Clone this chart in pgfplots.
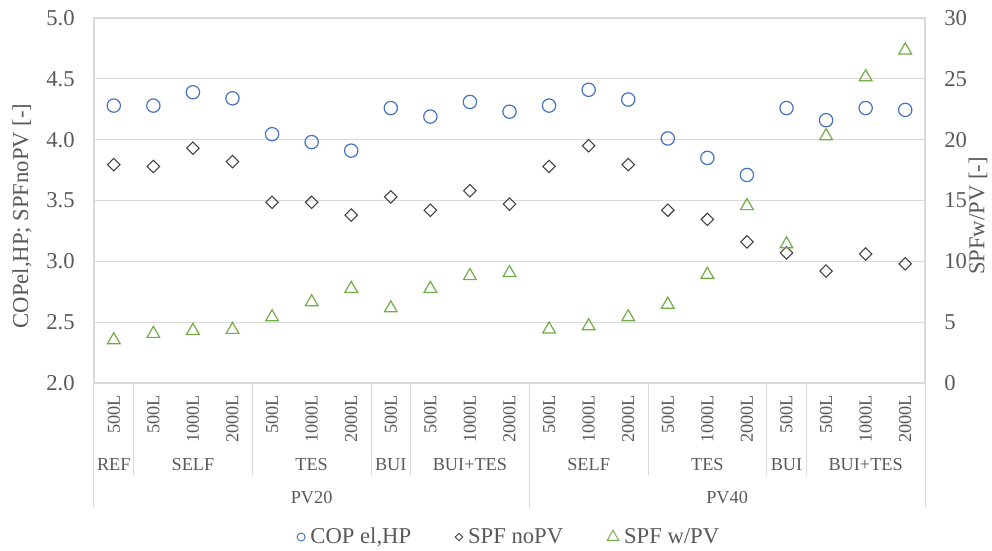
\documentclass[border=0pt]{standalone}
\usepackage{fontspec}
\setmainfont{Liberation Serif}
\usepackage{pgfplots}
\pgfplotsset{compat=1.18}
\definecolor{cblue}{HTML}{4472C4}
\definecolor{cdia}{HTML}{404040}
\definecolor{cgreen}{HTML}{70AD47}
\definecolor{gridc}{HTML}{D9D9D9}
\definecolor{txt}{HTML}{595959}
\newcommand{\mainfs}{\fontsize{17}{20}\selectfont}
\newcommand{\catfs}{\fontsize{13.7}{16}\selectfont}
\begin{document}
\begin{tikzpicture}
\useasboundingbox (-70.5pt,-125.25pt) rectangle (673.5pt,287.25pt);
\pgfplotsset{
  common/.style={
    scale only axis, width=623.25pt, height=273.75pt,
    xmin=-0.5, xmax=20.5, clip=false,
    /pgf/number format/assume math mode=true,
    tick label style={font=\mainfs, text=txt},
    major tick length=0pt,
  },
}
\begin{axis}[common,
  ymin=2, ymax=5, ytick={2,2.5,3,3.5,4,4.5,5},
  yticklabel style={/pgf/number format/fixed, /pgf/number format/fixed zerofill, /pgf/number format/precision=1, inner sep=0pt, anchor=east},
  yticklabel shift=14.25pt,
  ymajorgrids, grid style={gridc, line width=0.75pt},
  axis line style={gridc, line width=0.9pt},
  xtick={0,...,20},
  xticklabels={500L,500L,1000L,2000L,500L,1000L,2000L,500L,500L,1000L,2000L,500L,1000L,2000L,500L,1000L,2000L,500L,500L,1000L,2000L},
  xticklabel style={font=\catfs, inner sep=0pt, rotate=90, anchor=east},
  xticklabel shift=9pt,
  ylabel={COPel,HP; SPFnoPV [-]},
  every axis y label/.style={at={(axis description cs:-0.0866,0.4575)}, rotate=90, anchor=center, font=\mainfs, text=txt},
  legend style={at={(0.5,-0.422)}, anchor=center, draw=none, fill=none, legend columns=3, font=\mainfs, text=txt,
    /tikz/every odd column/.append style={column sep=2pt},
    /tikz/every even column/.append style={column sep=31pt}},
  legend image code/.code={\draw[#1] plot coordinates {(0.12cm,0cm)};},
]
\addplot[only marks, mark=o, mark size=5pt, cblue, mark options={line width=0.9pt}, forget plot] coordinates {
(0,4.28) (1,4.28) (2,4.39) (3,4.34) (4,4.045) (5,3.98) (6,3.91) (7,4.26) (8,4.19) (9,4.31) (10,4.23)
(11,4.28) (12,4.41) (13,4.33) (14,4.01) (15,3.85) (16,3.71) (17,4.26) (18,4.16) (19,4.26) (20,4.245)};
\addplot[only marks, mark=square, mark size=3.3pt, cdia, mark options={rotate=45, line width=0.8pt}, forget plot] coordinates {
(0,3.795) (1,3.78) (2,3.93) (3,3.82) (4,3.485) (5,3.485) (6,3.38) (7,3.53) (8,3.42) (9,3.58) (10,3.47)
(11,3.78) (12,3.95) (13,3.795) (14,3.42) (15,3.345) (16,3.16) (17,3.07) (18,2.92) (19,3.06) (20,2.98)};
\addlegendimage{only marks, mark=o, mark size=3pt, cblue, mark options={line width=0.7pt}}
\addlegendentry{COP el,HP}
\addlegendimage{only marks, mark=square, mark size=2pt, cdia, mark options={rotate=45, line width=0.7pt}}
\addlegendentry{SPF noPV}
\addlegendimage{only marks, mark=triangle, mark size=5pt, cgreen, mark options={line width=0.7pt}}
\addlegendentry{SPF w/PV}
% group separators
\draw[gridc, line width=0.75pt] (axis cs:0.5,2) -- ([yshift=-69pt]axis cs:0.5,2);
\draw[gridc, line width=0.75pt] (axis cs:3.5,2) -- ([yshift=-69pt]axis cs:3.5,2);
\draw[gridc, line width=0.75pt] (axis cs:6.5,2) -- ([yshift=-69pt]axis cs:6.5,2);
\draw[gridc, line width=0.75pt] (axis cs:7.5,2) -- ([yshift=-69pt]axis cs:7.5,2);
\draw[gridc, line width=0.75pt] (axis cs:13.5,2) -- ([yshift=-69pt]axis cs:13.5,2);
\draw[gridc, line width=0.75pt] (axis cs:16.5,2) -- ([yshift=-69pt]axis cs:16.5,2);
\draw[gridc, line width=0.75pt] (axis cs:17.5,2) -- ([yshift=-69pt]axis cs:17.5,2);
\draw[gridc, line width=0.75pt] (axis cs:-0.5,2) -- ([yshift=-93.75pt]axis cs:-0.5,2);
\draw[gridc, line width=0.75pt] (axis cs:10.5,2) -- ([yshift=-93.75pt]axis cs:10.5,2);
\draw[gridc, line width=0.75pt] (axis cs:20.5,2) -- ([yshift=-93.75pt]axis cs:20.5,2);
% level 2 labels
\node[font=\catfs, text=txt] at ([yshift=-61.5pt]axis cs:0,2) {REF};
\node[font=\catfs, text=txt] at ([yshift=-61.5pt]axis cs:2,2) {SELF};
\node[font=\catfs, text=txt] at ([yshift=-61.5pt]axis cs:5,2) {TES};
\node[font=\catfs, text=txt] at ([yshift=-61.5pt]axis cs:7,2) {BUI};
\node[font=\catfs, text=txt] at ([yshift=-61.5pt]axis cs:9,2) {BUI+TES};
\node[font=\catfs, text=txt] at ([yshift=-61.5pt]axis cs:12,2) {SELF};
\node[font=\catfs, text=txt] at ([yshift=-61.5pt]axis cs:15,2) {TES};
\node[font=\catfs, text=txt] at ([yshift=-61.5pt]axis cs:17,2) {BUI};
\node[font=\catfs, text=txt] at ([yshift=-61.5pt]axis cs:19,2) {BUI+TES};
% level 3 labels
\node[font=\catfs, text=txt] at ([yshift=-86.25pt]axis cs:5,2) {PV20};
\node[font=\catfs, text=txt] at ([yshift=-86.25pt]axis cs:15.5,2) {PV40};
\end{axis}
\begin{axis}[common,
  ymin=0, ymax=30, ytick={0,5,10,15,20,25,30},
  hide x axis, axis y line*=right,
  axis line style={gridc, line width=0.9pt},
  yticklabel style={inner sep=0pt, anchor=west},
  yticklabel shift=14.25pt,
  ylabel={SPFw/PV [-]},
  every axis y label/.style={at={(axis description cs:1.0638,0.4575)}, rotate=90, anchor=center, font=\mainfs, text=txt},
]
\addplot[only marks, mark=triangle, mark size=5.5pt, cgreen, mark options={line width=0.9pt}] coordinates {
(0,3.53) (1,4.05) (2,4.3) (3,4.38) (4,5.42) (5,6.65) (6,7.75) (7,6.15) (8,7.75) (9,8.8) (10,9.05)
(11,4.41) (12,4.68) (13,5.42) (14,6.45) (15,8.91) (16,14.55) (17,11.41) (18,20.3) (19,25.15) (20,27.35)};
\end{axis}
\end{tikzpicture}
\end{document}
